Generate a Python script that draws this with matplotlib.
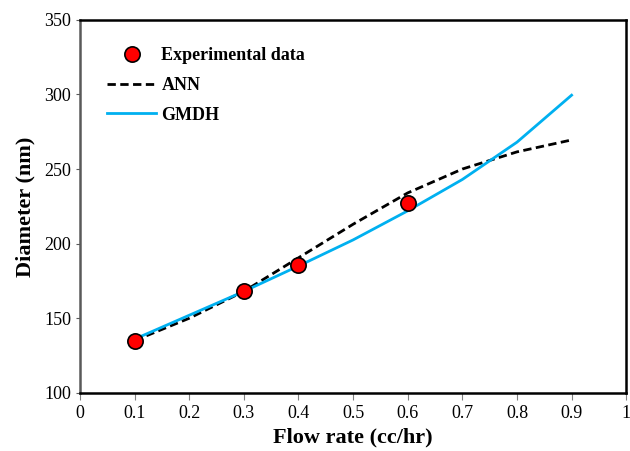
import numpy as np
import matplotlib.pyplot as plt

# experimental points
exp_x = [0.1, 0.3, 0.4, 0.6]
exp_y = [134.5, 168.5, 185.5, 227]

# model curves
mod_x = [0.1, 0.2, 0.3, 0.4, 0.5, 0.6, 0.7, 0.8, 0.9]
ann_y = [135, 150, 168, 190.5, 213, 234, 250, 261.5, 269.5]
gmdh_y = [136, 152, 168, 185, 202.5, 222, 243, 268, 299.5]

plt.rcParams['font.family'] = ['Liberation Serif', 'DejaVu Serif']

fig = plt.figure(figsize=(6.3, 4.51), dpi=100)
ax = fig.add_axes([0.127, 0.129, 0.867, 0.827])

ax.plot(mod_x, ann_y, color='black', linestyle=(0, (3, 1.6)), linewidth=2, label='ANN')
ax.plot(mod_x, gmdh_y, color='#00b0f0', linewidth=2, label='GMDH')
ax.plot(exp_x, exp_y, 'o', markersize=11, markerfacecolor='#ff0000',
        markeredgecolor='black', markeredgewidth=1.2, label='Experimental data', zorder=5)

ax.set_xlim(0, 1)
ax.set_ylim(100, 350)
ax.set_xticks(np.arange(0, 1.01, 0.1))
ax.set_xticklabels(['0', '0.1', '0.2', '0.3', '0.4', '0.5', '0.6', '0.7', '0.8', '0.9', '1'])
ax.set_yticks(range(100, 351, 50))
ax.tick_params(axis='x', direction='out', length=5, color='#808080', labelsize=13)
ax.tick_params(axis='y', direction='out', length=3, color='#595959', labelsize=13)
for s in ax.spines.values():
    s.set_linewidth(1.8)
    s.set_color('black')
ax.spines['left'].set_color('#595959')

ax.set_xlabel('Flow rate (cc/hr)', fontsize=16, fontweight='bold', labelpad=4)
ax.set_ylabel('Diameter (nm)', fontsize=16, fontweight='bold', labelpad=6)

h, l = ax.get_legend_handles_labels()
order = [2, 0, 1]
leg = ax.legend([h[i] for i in order], [l[i] for i in order], loc='upper left',
                bbox_to_anchor=(0.02, 0.97), frameon=False,
                prop={'weight': 'bold', 'size': 13}, handlelength=2.7,
                handletextpad=0.3, labelspacing=0.7)

fig.savefig('out.png', dpi=100)
